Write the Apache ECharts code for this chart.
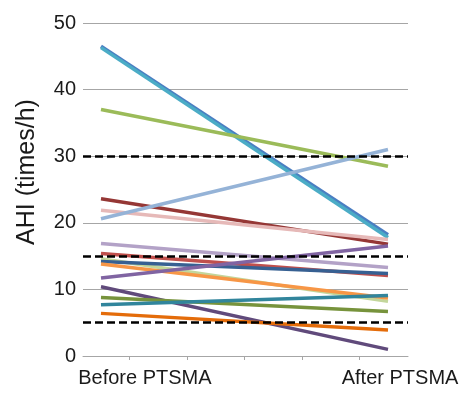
<!DOCTYPE html>
<html><head><meta charset="utf-8">
<script src="https://cdn.jsdelivr.net/npm/echarts@6/dist/echarts.min.js"></script>
<style>html,body{margin:0;padding:0;background:#fff}#c{width:464px;height:393px}</style>
</head><body><div id="c"></div>
<script>
const categories = ['Before PTSMA', 'After PTSMA'];
const yTicks = [0, 10, 20, 30, 40, 50];
const thresholds = [5, 15, 30];
const beforeValues = [46.5, 46.3, 37.0, 23.6, 21.9, 20.6, 16.9, 15.4, 14.6, 14.2, 13.8, 11.7, 10.4, 8.8, 7.7, 6.4];
const afterValues  = [18.2, 17.8, 28.5, 16.8, 17.5, 31.0, 13.3, 12.1, 8.2, 12.4, 8.7, 16.5, 1.0, 6.7, 9.1, 3.9];
const colors = ['#4a7ec2', '#4bacc6', '#9bbb59', '#953735', '#e6b9b8', '#95b3d7', '#b3a2c7', '#c0504d',
                '#c3d69b', '#376092', '#f79646', '#8064a2', '#604a7b', '#77933c', '#31859c', '#e46c0a'];

const font = 'Liberation Sans, Arial, sans-serif';
const chart = echarts.init(document.getElementById('c'), null, {renderer: 'canvas'});

const series = beforeValues.map((b, i) => ({
  type: 'line',
  name: 'Patient ' + (i + 1),
  data: [[0, b], [1, afterValues[i]]],
  symbol: 'none',
  lineStyle: {width: 3.5, color: colors[i]},
  itemStyle: {color: colors[i]},
  z: 3,
  animation: false
}));
series.push({
  type: 'line', data: [], silent: true, animation: false,
  markLine: {
    symbol: ['none', 'none'], silent: true, label: {show: false},
    lineStyle: {color: '#000', width: 2.5, type: [8, 4]},
    data: thresholds.map(t => ({yAxis: t})),
    animation: false
  },
  z: 4
});

chart.setOption({
  animation: false,
  backgroundColor: '#fff',
  grid: {left: 83, right: 56, top: 23, bottom: 37, containLabel: false},
  xAxis: {
    type: 'value', min: -0.0627, max: 1.0697,
    axisLine: {show: true, lineStyle: {color: '#a6a6a6', width: 1}},
    axisTick: {show: true, customValues: [0.1, 0.3, 0.5, 0.7, 0.9], length: 4, lineStyle: {color: '#a6a6a6'}},
    axisLabel: {
      customValues: [0.153, 1.042],
      formatter: v => (v < 0.5 ? categories[0] : categories[1]),
      fontSize: 20, fontFamily: font, color: '#1a1a1a', margin: 12
    },
    splitLine: {show: false}
  },
  yAxis: {
    type: 'value', min: 0, max: 50, interval: 10,
    axisLine: {show: false},
    axisTick: {show: false},
    axisLabel: {fontSize: 20, fontFamily: font, color: '#1a1a1a', margin: 7,
      formatter: v => (yTicks.includes(v) ? String(v) : '')},
    splitLine: {show: true, lineStyle: {color: '#a6a6a6', width: 1}}
  },
  graphic: [{
    type: 'text', x: 27, y: 172, rotation: Math.PI / 2,
    style: {text: 'AHI (times/h)', font: '25px ' + font, fill: '#1a1a1a', textAlign: 'center', textVerticalAlign: 'middle'}
  }],
  series: series
});
</script></body></html>
